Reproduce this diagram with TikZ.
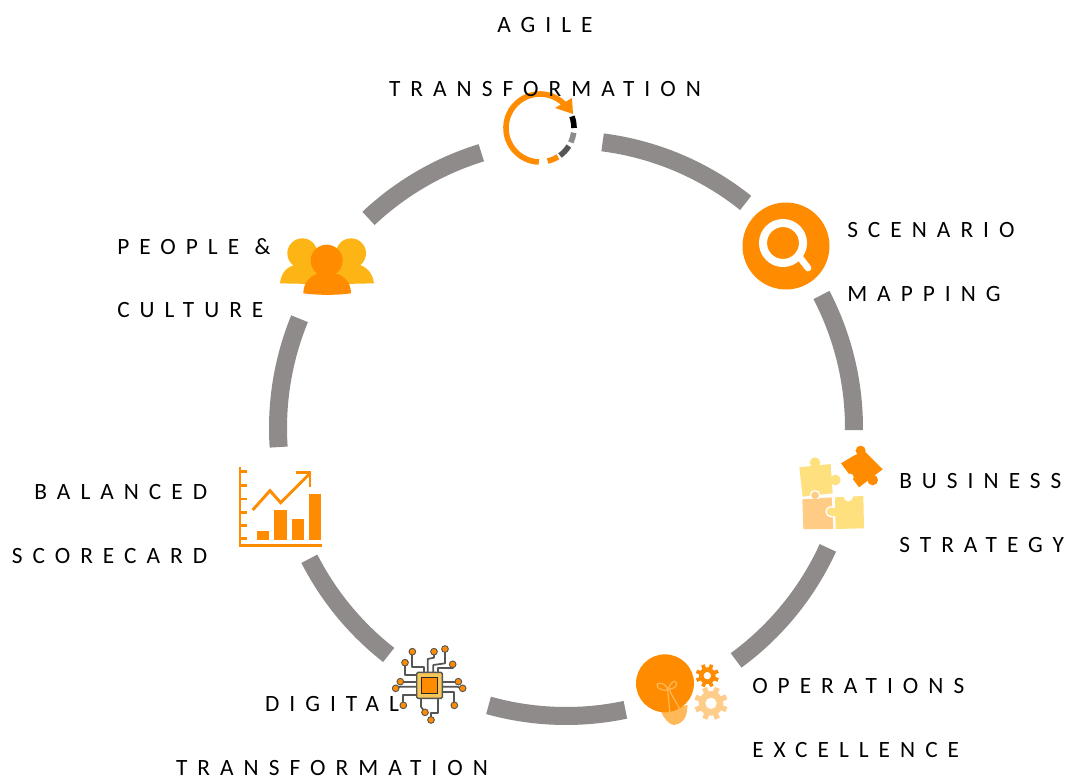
\documentclass[tikz,border=0pt]{standalone}
\usepackage{fontspec}
\newfontfamily\lblfont[LetterSpace=43]{Carlito}
\usetikzlibrary{calc}
\definecolor{ringgray}{HTML}{8F8B8A}
\definecolor{iconorange}{HTML}{FF8C00}
\definecolor{iconamber}{HTML}{FDB515}
\definecolor{puzzleyellow}{HTML}{FFE07F}
\definecolor{puzzletan}{HTML}{FFCB85}
\definecolor{gearpale}{HTML}{FFCD8A}
\definecolor{bulbbase}{HTML}{FFB959}
\definecolor{chipgold}{HTML}{F7C659}
\definecolor{wiregray}{HTML}{555555}
\newcommand{\gearshape}[6]{% cx,cy,outer,body,hole,colour
  \begin{scope}[shift={(#1,#2)}]
    \fill[#6] (0,0) circle[radius=#4];
    \foreach \a in {0,45,...,315}{\fill[#6,rotate=\a+22] (-0.16*#3,0) rectangle (0.16*#3,#3);}
    \fill[white] (0,0) circle[radius=#5];
  \end{scope}}
\tikzset{
  ringseg/.style={draw=ringgray,line width=13.5pt,line cap=butt},
  lbl/.style={inner sep=0pt,font={\lblfont\fontsize{17.5}{47.8}\selectfont},text=black},
  wire/.style={draw=wiregray,line width=1.3pt,line join=round},
  pad/.style={fill=iconorange,draw=wiregray,line width=0.7pt},
  chartline/.style={draw=iconorange,line width=2.2pt},
}
\begin{document}
\begin{tikzpicture}[x=0.75pt,y=0.75pt,yscale=-1]
\fill[white] (0,0) rectangle (1072,778);
\useasboundingbox (0,0) rectangle (1072,778);
\coordinate (c) at (566,428);
% ring
\foreach \s/\e in {-82.7/-51.4,-27.5/0.4,24.6/53.8,78.1/105.6,128/153,176.2/202.3,226.7/252.9}{
  \draw[ringseg] (c) ++(\s:288) arc[start angle=\s,end angle=\e,radius=288];
}
% agile icon
\begin{scope}[shift={(540,128)}]
  \draw[iconorange,line width=4.2pt] (92:34) arc[start angle=92,end angle=318,radius=34];
  \draw[iconorange,line width=4.2pt] (77:34) arc[start angle=77,end angle=58,radius=34];
  \draw[black,line width=4.2pt] (-20:34) arc[start angle=-20,end angle=0,radius=34];
  \draw[gray!90,line width=4.2pt] (8:34) arc[start angle=8,end angle=25,radius=34];
  \draw[wiregray,line width=4.2pt] (32:34) arc[start angle=32,end angle=54,radius=34];
  \fill[iconorange] (15,-20) -- (32,-30) -- (33,-14) -- cycle;
\end{scope}
% scenario icon
\fill[iconorange] (786,246) circle[radius=43.5];
\draw[white,line width=6pt] (783,243) circle[radius=20];
\draw[white,line width=5pt,line cap=round] (798,255) -- (808,268);
% puzzle icon
\begin{scope}[shift={(790,440)},scale=1/3]
  \fill[puzzleyellow] (28,82) -- (122,72) -- (128,160) -- (38,170) -- cycle;
  \fill[puzzleyellow] (75,68) circle[radius=16];
  \fill[puzzleyellow] (136,120) circle[radius=16];
  \fill[puzzletan] (37,178) -- (125,172) -- (130,267) -- (40,267) -- cycle;
  \fill[puzzletan,draw=white,line width=1pt] (75,166) circle[radius=14];
  \fill[puzzletan] (60,178) rectangle (90,190);
  \fill[puzzleyellow] (135,172) -- (220,168) -- (222,265) -- (137,267) -- cycle;
  \fill[white] (175,170) circle[radius=14];
  \fill[puzzleyellow,draw=white,line width=1pt] (123,215) circle[radius=15];
  \fill[puzzleyellow] (125,203) rectangle (145,227);
  \fill[iconorange] (153,70) -- (207,142) -- (278,88) -- (225,35) -- (195,45) -- cycle;
  \fill[iconorange] (212,32) circle[radius=15];
  \fill[iconorange] (248,120) circle[radius=16];
  \fill[white] (180,112) circle[radius=11];
\end{scope}
% operations icon
\begin{scope}[shift={(625,645)},scale=1/3]
  \fill[bulbbase] (108,200) -- (188,180) -- (184,210) .. controls (178,228) and (160,240) .. (146,240) .. controls (132,238) and (118,222) .. (108,200) -- cycle;
  \fill[iconorange] (120,115) circle[radius=87];
  \draw[bulbbase,line width=0.9pt] (128,135) .. controls (100,140) and (85,115) .. (105,115) .. controls (120,115) and (125,125) .. (128,135) .. controls (135,115) and (150,100) .. (155,115) .. controls (155,130) and (140,130) .. (133,133) .. controls (140,155) and (155,170) .. (165,195);
  \draw[bulbbase,line width=0.9pt] (128,135) -- (135,205);
  \gearshape{247}{92}{35}{25}{11}{iconorange}
  \gearshape{258}{175}{50}{37}{17}{gearpale}
\end{scope}
% chip icon
\begin{scope}[shift={(385,635)},scale=1/3]
  \draw[wire] (82,50) -- (82,95) -- (118,95) -- (118,112);
  \draw[wire] (147,50) -- (147,68) -- (128,72) -- (128,112);
  \draw[wire] (180,42) -- (180,85) -- (145,90) -- (145,112);
  \draw[wire] (203,88) -- (203,100) -- (160,100) -- (160,112);
  \draw[wire] (60,83) -- (60,120) -- (95,120);
  \draw[wire] (46,140) -- (95,140);
  \draw[wire] (32,160) -- (46,155) -- (95,155);
  \draw[wire] (220,140) -- (172,140);
  \draw[wire] (233,160) -- (215,155) -- (172,155);
  \draw[wire] (208,211) -- (208,170) -- (172,170);
  \draw[wire] (55,211) -- (55,180) -- (95,180);
  \draw[wire] (120,232) -- (108,215) -- (108,190);
  \draw[wire] (138,255) -- (138,235) -- (158,235) -- (158,190);
  \foreach \p in {(82,50),(147,50),(180,42),(203,88),(60,83),(46,140),(32,160),(220,140),(233,160),(208,211),(55,211),(120,232),(138,255)}{
    \fill[pad] \p circle[radius=10];
  }
  \fill[chipgold,draw=wiregray,line width=1pt,rounded corners=1pt] (95,112) rectangle (172,190);
  \fill[iconorange,draw=black!85,line width=1pt] (110,127) rectangle (157,175);
\end{scope}
% chart icon
\begin{scope}[shift={(230,455)},scale=1/3]
  \draw[chartline] (30,37) -- (30,272) -- (275,272);
  \foreach \t in {50,92,132,172,212,250}{\draw[chartline] (30,\t) -- (52,\t);}
  \draw[chartline] (68,165) -- (120,107) -- (152,143) -- (240,55);
  \draw[chartline] (198,52) -- (240,52) -- (240,95);
  \fill[iconorange] (82,227) rectangle (118,255);
  \fill[iconorange] (133,165) rectangle (170,255);
  \fill[iconorange] (185,193) rectangle (221,255);
  \fill[iconorange] (236,116) rectangle (273,255);
\end{scope}
% people icon
\begin{scope}[shift={(270,225)},scale=1/3]
  \fill[iconamber] (97,85) circle[radius=45];
  \fill[iconamber] (30,175) .. controls (33,145) and (50,122) .. (85,118) -- (120,118) .. controls (150,125) and (165,150) .. (170,178) -- cycle;
  \fill[iconamber] (243,85) circle[radius=45];
  \fill[iconamber] (170,178) .. controls (178,150) and (195,125) .. (225,118) -- (260,118) .. controls (290,122) and (308,145) .. (312,175) -- cycle;
  \fill[iconorange] (170,107) circle[radius=48];
  \fill[iconorange] (100,205) .. controls (100,175) and (118,150) .. (150,145) -- (192,145) .. controls (225,150) and (243,175) .. (243,205) .. controls (200,211) and (145,211) .. (100,205) -- cycle;
\end{scope}
% labels
\node[lbl,anchor=north,align=center] (agile) at (545,17) {AGILE\\TRANSFORMATION};
\node[lbl,anchor=north west,align=left] (scenario) at (847,222) {SCENARIO\\MAPPING};
\node[lbl,anchor=north west,align=left] (business) at (899,473) {BUSINESS\\STRATEGY};
\node[lbl,anchor=north west,align=left] (operations) at (752,678) {OPERATIONS\\EXCELLENCE};
\node[lbl,anchor=north,align=center] (digital) at (332,696.5) {DIGITAL\\TRANSFORMATION};
\node[lbl,anchor=north east,align=right] (balanced) at (207.5,484) {BALANCED\\SCORECARD};
\node[lbl,anchor=north west,align=left] (people) at (117,238) {PEOPLE \&\\CULTURE};
\end{tikzpicture}
\end{document}
